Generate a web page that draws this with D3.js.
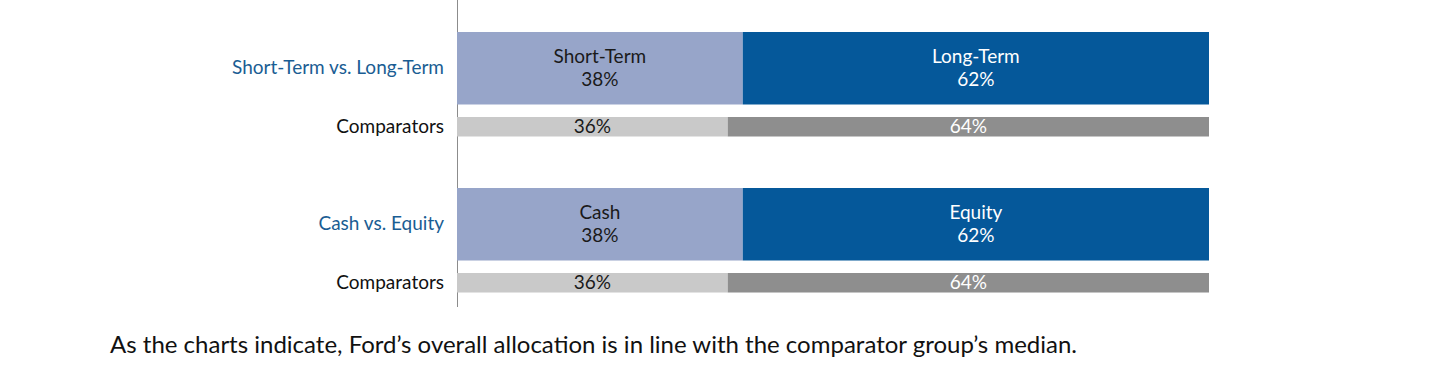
<!DOCTYPE html>
<html>
<head>
<meta charset="utf-8">
<script src="https://cdn.jsdelivr.net/npm/d3@7"></script>
<style>
  body { margin: 0; background: #fff; }
  svg { display: block; font-family: "Lato", "Open Sans", sans-serif; }
</style>
</head>
<body>
<svg width="1440" height="375"></svg>
<script>
// chart data
var groups = ["Short-Term vs. Long-Term", "Cash vs. Equity"];
var partNames = [["Short-Term", "Long-Term"], ["Cash", "Equity"]];
var fordShares = [38, 38];        // first part, second part = 100 - value
var comparatorShares = [36, 36];
var caption = "As the charts indicate, Ford\u2019s overall allocation is in line with the comparator group\u2019s median.";

document.addEventListener('DOMContentLoaded', function() {
    draw();
});

function draw() {
    var svg = d3.select("svg");

    var x = d3.scaleLinear().domain([0, 100]).range([457, 1209]);

    // one band per group; main bar on top, comparator bar below
    var y = d3.scaleBand()
        .domain(groups)
        .range([32, 293])
        .paddingInner(0.327)
        .paddingOuter(0);

    var mainH = 72.5, compY = 85, compH = 19.5;

    // axis line on the left edge
    svg.append("line")
        .attr("x1", x(0) + 0.5).attr("x2", x(0) + 0.5)
        .attr("y1", 0).attr("y2", 307)
        .attr("stroke", "#8c8c8c")
        .attr("stroke-width", 1);

    var g = svg.selectAll("g.group")
        .data(groups)
        .enter().append("g")
        .attr("class", "group")
        .attr("transform", function(d) { return "translate(0," + y(d) + ")"; });

    g.each(function(d, i) {
        var sel = d3.select(this);
        var v = fordShares[i];
        var parts = [
            { name: partNames[i][0], from: 0, to: v, fill: "#97a5c9", text: "#1a1a1a" },
            { name: partNames[i][1], from: v, to: 100, fill: "#05589a", text: "#ffffff" }
        ];
        // main bars
        sel.selectAll("rect.main")
            .data(parts)
            .enter().append("rect")
            .attr("class", "main")
            .attr("x", function(p) { return x(p.from); })
            .attr("width", function(p) { return x(p.to) - x(p.from); })
            .attr("y", 0)
            .attr("height", mainH)
            .attr("fill", function(p) { return p.fill; });

        var lbl = sel.selectAll("text.main")
            .data(parts)
            .enter().append("text")
            .attr("class", "main")
            .attr("text-anchor", "middle")
            .attr("font-size", "19px")
            .attr("fill", function(p) { return p.text; });
        lbl.append("tspan")
            .attr("x", function(p) { return (x(p.from) + x(p.to)) / 2; })
            .attr("y", 31)
            .text(function(p) { return p.name; });
        lbl.append("tspan")
            .attr("x", function(p) { return (x(p.from) + x(p.to)) / 2; })
            .attr("y", 54)
            .text(function(p) { return (p.to - p.from) + "%"; });

        // comparator bars
        var c = comparatorShares[i];
        var cparts = [
            { from: 0, to: c, fill: "#c9c9c9", text: "#1a1a1a" },
            { from: c, to: 100, fill: "#8e8e8e", text: "#ffffff" }
        ];
        sel.selectAll("rect.comp")
            .data(cparts)
            .enter().append("rect")
            .attr("class", "comp")
            .attr("x", function(p) { return x(p.from); })
            .attr("width", function(p) { return x(p.to) - x(p.from); })
            .attr("y", compY)
            .attr("height", compH)
            .attr("fill", function(p) { return p.fill; });

        sel.selectAll("text.comp")
            .data(cparts)
            .enter().append("text")
            .attr("class", "comp")
            .attr("text-anchor", "middle")
            .attr("font-size", "19px")
            .attr("fill", function(p) { return p.text; })
            .attr("x", function(p) { return (x(p.from) + x(p.to)) / 2; })
            .attr("y", compY + 16)
            .text(function(p) { return (p.to - p.from) + "%"; });

        // row labels
        sel.append("text")
            .attr("x", 444)
            .attr("y", 42)
            .attr("text-anchor", "end")
            .attr("font-size", "19px")
            .attr("fill", "#1a5d93")
            .text(d);
        sel.append("text")
            .attr("x", 444)
            .attr("y", compY + 16)
            .attr("text-anchor", "end")
            .attr("font-size", "19px")
            .attr("fill", "#111")
            .text("Comparators");
    });

    // caption under the chart
    svg.append("text")
        .attr("x", 110)
        .attr("y", 353)
        .attr("font-size", "24px")
        .attr("fill", "#111")
        .text(caption);
}
</script>
</body>
</html>
